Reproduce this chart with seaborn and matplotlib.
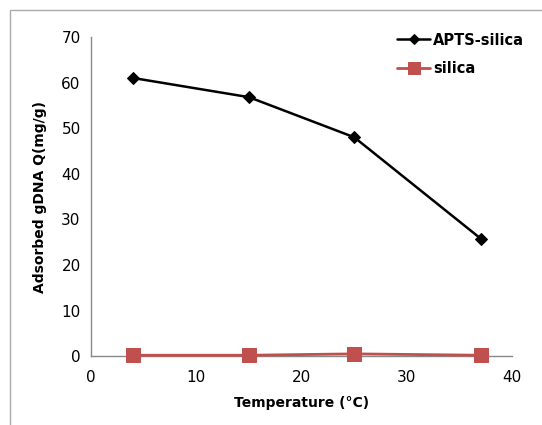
import numpy as np
import pandas as pd
import seaborn as sns
import matplotlib.pyplot as plt
from matplotlib.patches import Rectangle

temperature = [4, 15, 25, 37]
apts_silica = [61.0, 56.8, 48.0, 25.8]
silica = [0.2, 0.2, 0.5, 0.2]

sns.set_style("white")
plt.rcParams['font.family'] = ['DejaVu Sans']
plt.rcParams['text.color'] = 'black'
plt.rcParams['axes.labelcolor'] = 'black'

fig = plt.figure(figsize=(5.42, 4.25), dpi=100)
ax = fig.add_axes([0.168, 0.162, 0.777, 0.751])

sns.lineplot(x=temperature, y=apts_silica, ax=ax, color="black", marker="D",
             markersize=6, markeredgecolor="black", linewidth=1.8, label="APTS-silica",
             clip_on=False, zorder=4)
sns.lineplot(x=temperature, y=silica, ax=ax, color="#c0504d", marker="s",
             markersize=10, markeredgecolor="#c0504d", linewidth=2, label="silica",
             clip_on=False, zorder=4)

ax.set_xlim(0, 40)
ax.set_ylim(0, 70)
ax.set_xticks(range(0, 41, 10))
ax.set_yticks(range(0, 71, 10))
ax.set_xlabel("Temperature (°C)", fontsize=10, fontweight="bold", labelpad=8)
ax.set_ylabel("Adsorbed gDNA Q(mg/g)", fontsize=10, fontweight="bold", labelpad=10)
ax.tick_params(axis="both", labelsize=11, direction="out", length=4, color="#888888",
               width=1, labelcolor="black")
ax.tick_params(axis="x", pad=6)
sns.despine(ax=ax)
for s in ["left", "bottom"]:
    ax.spines[s].set_color("#888888")
    ax.spines[s].set_linewidth(1)

leg = ax.legend(loc="upper right", bbox_to_anchor=(1.06, 1.055), frameon=False,
                fontsize=10.5, handlelength=2.3, labelspacing=0.95, handletextpad=0.2)
for t in leg.get_texts():
    t.set_fontweight("bold")
leg.legend_handles[0].set_markersize(5)
leg.legend_handles[1].set_markersize(8)

# outer border of the chart area
fig.patches.append(Rectangle((10 / 542, -0.1), 1.1, (415 / 425) + 0.1, transform=fig.transFigure,
                             fill=False, edgecolor="#aaaaaa", linewidth=1))

fig.savefig("out.png", dpi=100)
